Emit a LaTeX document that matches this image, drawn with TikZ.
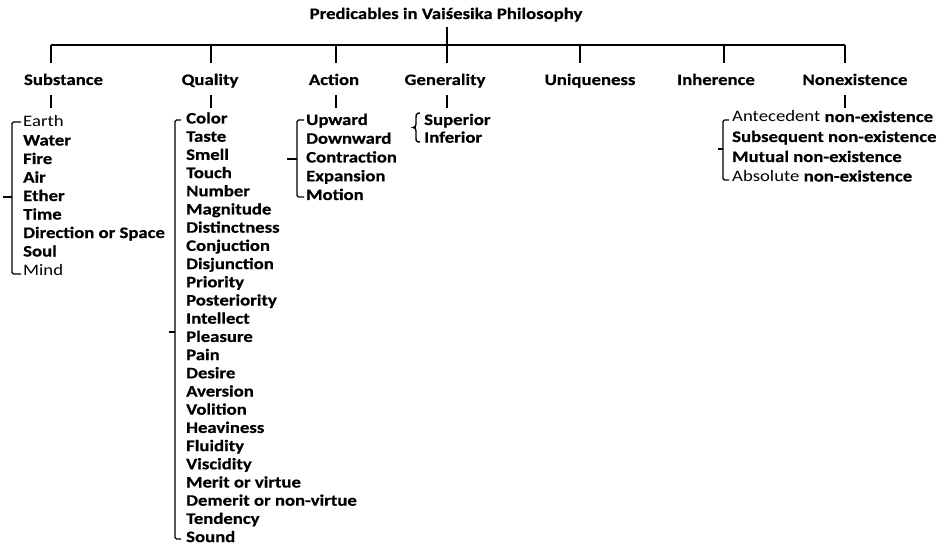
\documentclass[tikz,border=0pt]{standalone}
\usepackage{fontspec}
\setmainfont{Carlito}[FakeStretch=1.17, BoldFeatures={FakeBold=0.5}]
\begin{document}
\begin{tikzpicture}[x=1pt,y=-1pt,
  every node/.style={font=\bfseries\fontsize{16}{17}\selectfont, inner sep=0pt},
  head/.style={anchor=base},
  item/.style={anchor=base west},
  ln/.style={line width=1.6pt},
  brk/.style={line width=1.4pt, rounded corners=1.5pt}]
\useasboundingbox (0,0) rectangle (947,548);
\fill[white] (0,0) rectangle (947,548);

% title
\node[head] (title) at (446,19) {Predicables in Vaiśesika Philosophy};

% tick coordinates on the bar
\coordinate (tS) at (51,45);
\coordinate (tQ) at (211,45);
\coordinate (tA) at (336,45);
\coordinate (tG) at (447,45);
\coordinate (tU) at (580,45);
\coordinate (tI) at (724,45);
\coordinate (tN) at (845,45);

% headings
\node[head] (sub) at (63.5,85) {Substance};
\node[head] (qua) at (210,85) {Quality};
\node[head] (act) at (334,85) {Action};
\node[head] (gen) at (445,85) {Generality};
\node[head] (uni) at (590,85) {Uniqueness};
\node[head] (inh) at (716,85) {Inherence};
\node[head] (non) at (855,85) {Nonexistence};

% bar and title stem
\draw[ln] (tS) -- (tN);
\draw[ln] (tG |- 0,27) -- (tG);
\foreach \t/\h in {tS/sub,tQ/qua,tA/act,tG/gen,tU/uni,tI/inh,tN/non}
  \draw[ln] (\t) -- (\t |- 0,63);

% stems under headings
\foreach \t/\h in {tS/sub,tQ/qua,tA/act,tG/gen,tN/non}
  \draw[ln] (\t |- 0,95) -- (\t |- 0,108);

% Substance items
\foreach \txt [count=\i] in {{\mdseries Earth},Water,Fire,Air,Ether,Time,Direction or Space,Soul,{\mdseries Mind}}
  \node[item] (s\i) at (23,{127+(\i-1)*18.5}) {\txt};

% Quality items
\foreach \txt [count=\i] in {Color,Taste,Smell,Touch,Number,Magnitude,Distinctness,Conjuction,Disjunction,Priority,Posteriority,Intellect,Pleasure,Pain,Desire,Aversion,Volition,Heaviness,Fluidity,Viscidity,Merit or virtue,Demerit or non-virtue,Tendency,Sound}
  \node[item] (q\i) at (186,{123.5+(\i-1)*18.2}) {\txt};

% Action items
\foreach \txt [count=\i] in {Upward,Downward,Contraction,Expansion,Motion}
  \node[item] (a\i) at (306,{125+(\i-1)*18.75}) {\txt};

% Generality items
\node[item] (g1) at (424,125) {Superior};
\node[item] (g2) at (424,142.7) {Inferior};

% Nonexistence items
\node[item] (n1) at (732,122) {{\mdseries Antecedent} non-existence};
\node[item] (n2) at (732,142) {Subsequent non-existence};
\node[item] (n3) at (732,162) {Mutual non-existence};
\node[item] (n4) at (732,181.5) {{\mdseries Absolute} non-existence};

% brackets
\draw[brk] (21,122) -- (12,122) -- (12,274) -- (21,274);
\draw[ln] (12,197) -- (3,197);

\draw[brk] (181,120) -- (175,120) -- (175,539) -- (181,539);
\draw[ln] (175,332) -- (169,332);

\draw[brk] (304,120) -- (297,120) -- (297,197) -- (304,197);
\draw[ln] (297,159) -- (287,159);

\draw[brk] (729,120) -- (723,120) -- (723,180) -- (729,180);
\draw[ln] (723,149) -- (718,149);

% generality brace
\draw[line width=1.4pt] (420,113) .. controls (416,113) and (416,115) .. (416,119)
  -- (416,124) .. controls (416,126.5) and (415,127.5) .. (413,127.5)
  .. controls (415,127.5) and (416,128.5) .. (416,131) -- (416,137)
  .. controls (416,141) and (416,142) .. (420,142);
\end{tikzpicture}
\end{document}
